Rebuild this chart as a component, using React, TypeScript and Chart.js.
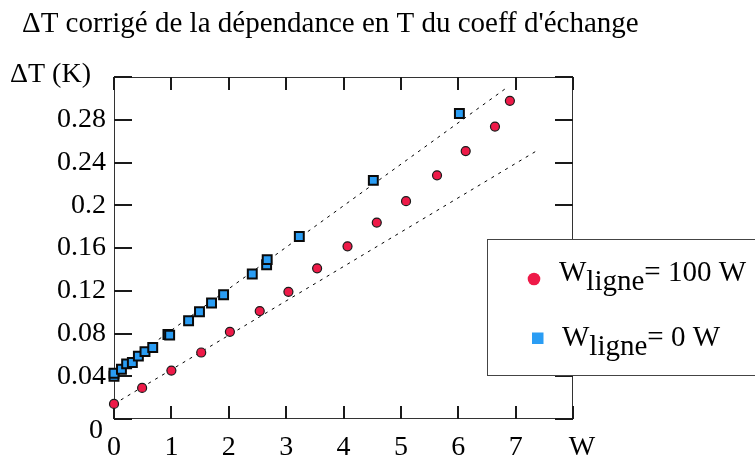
import React, { useEffect, useRef } from 'react';
import { Chart, registerables } from 'chart.js';

Chart.register(...registerables);

const SERIF = '"Liberation Serif", "Times New Roman", Times, serif';

const titleText = "ΔT corrigé de la dépendance en T du coeff d'échange";
const yUnitLabel = 'ΔT (K)';
const xUnitLabel = 'W';

// W_ligne = 100 W (red circles)
const redX = [0, 0.49, 1.0, 1.52, 2.02, 2.54, 3.04, 3.54, 4.07, 4.58, 5.09, 5.63, 6.13, 6.64, 6.9];
const redY = [0.0141, 0.0291, 0.0453, 0.0622, 0.0816, 0.101, 0.119, 0.141, 0.1616, 0.1838, 0.2038, 0.228, 0.2507, 0.2736, 0.2977];

// W_ligne = 0 W (blue squares)
const blueX = [0, 0, 0.13, 0.22, 0.32, 0.425, 0.54, 0.675, 0.94, 0.97, 1.3, 1.49, 1.7, 1.91, 2.41, 2.66, 2.67, 3.23, 4.52, 6.02];
const blueY = [0.04, 0.0428, 0.0466, 0.0516, 0.0528, 0.0588, 0.063, 0.0669, 0.079, 0.0785, 0.0919, 0.1003, 0.1085, 0.1163, 0.1357, 0.1444, 0.1491, 0.1707, 0.2233, 0.2858];

// dotted fit lines
const fitUpperX = [0.78, 6.81];
const fitUpperY = [0.0745, 0.3086];
const fitLowerX = [0, 7.36];
const fitLowerY = [0.014, 0.2507];

const xMin = 0, xMax = 8, xStep = 1;
const yMin = 0, yMax = 0.32, yStep = 0.04;

const legendMain = 'W';
const legendSub = 'ligne';
const legendRest = ['= 100 W', '= 0 W'];

const RED = '#ee1a48';
const BLUE = '#2a9df4';

const pts = (xs: number[], ys: number[]) => xs.map((x, i) => ({ x, y: ys[i] }));

const framePlugin = {
  id: 'frameTicks',
  beforeDatasetsDraw(chart: any) {
    const { ctx, chartArea: a, scales } = chart;
    const xs = scales.x, ys = scales.y;
    ctx.save();
    ctx.strokeStyle = '#333';
    ctx.lineWidth = 1;
    ctx.strokeRect(a.left + 0.5, a.top + 0.5, a.right - a.left - 1, a.bottom - a.top - 1);
    ctx.strokeStyle = '#1a1a1a';
    ctx.lineWidth = 2;
    ctx.beginPath();
    xs.ticks.forEach((t: any) => {
      const px = Math.round(xs.getPixelForValue(t.value));
      ctx.moveTo(px, a.bottom); ctx.lineTo(px, a.bottom - 13);
      ctx.moveTo(px, a.top); ctx.lineTo(px, a.top + 13);
    });
    ys.ticks.forEach((t: any) => {
      const py = Math.round(ys.getPixelForValue(t.value));
      ctx.moveTo(a.left, py); ctx.lineTo(a.left + 18, py);
      ctx.moveTo(a.right, py); ctx.lineTo(a.right - 18, py);
    });
    ctx.stroke();
    ctx.restore();
  },
  afterDraw(chart: any) {
    const { ctx, scales } = chart;
    ctx.save();
    ctx.fillStyle = '#000';
    ctx.textBaseline = 'alphabetic';
    ctx.textAlign = 'left';
    ctx.font = `29px ${SERIF}`;
    ctx.fillText(titleText, 22, 32);
    ctx.font = `28px ${SERIF}`;
    ctx.fillText(yUnitLabel, 10, 82);
    ctx.textAlign = 'center';
    ctx.fillText('0', 96, 438);
    ctx.fillText(xUnitLabel, scales.x.getPixelForValue(xMax) + 9, 455);

    // legend box
    const lx = 487, ly = 239, lh = 136;
    ctx.fillStyle = '#fff';
    ctx.fillRect(lx, ly, 300, lh);
    ctx.strokeStyle = '#444';
    ctx.lineWidth = 1;
    ctx.strokeRect(lx + 0.5, ly + 0.5, 300, lh);

    // markers
    ctx.fillStyle = RED;
    ctx.beginPath();
    ctx.arc(534, 279, 6.3, 0, Math.PI * 2);
    ctx.fill();
    ctx.fillStyle = BLUE;
    ctx.fillRect(532, 332.5, 11.5, 11.5);

    // texts
    const rows = [{ x: 559, y: 280.5 }, { x: 562, y: 345.5 }];
    ctx.fillStyle = '#000';
    ctx.textAlign = 'left';
    rows.forEach((r, i) => {
      ctx.font = `29px ${SERIF}`;
      ctx.fillText(legendMain, r.x, r.y);
      let x = r.x + ctx.measureText(legendMain).width;
      ctx.fillText(legendSub, x, r.y + 9.5);
      x += ctx.measureText(legendSub).width;
      ctx.fillText(legendRest[i], x, r.y);
    });
    ctx.restore();
  },
};

export default function App() {
  const ref = useRef<HTMLCanvasElement | null>(null);
  useEffect(() => {
    if (!ref.current) return;
    const chart = new Chart(ref.current, {
      type: 'scatter',
      data: {
        datasets: [
          {
            label: 'W_ligne= 100 W',
            data: pts(redX, redY),
            backgroundColor: RED,
            borderColor: '#1a1a1a',
            borderWidth: 1.2,
            pointStyle: 'circle',
            pointRadius: 4.5,
            order: 1,
            clip: false,
          },
          {
            label: 'W_ligne= 0 W',
            data: pts(blueX, blueY),
            backgroundColor: BLUE,
            borderColor: '#0a0a0a',
            borderWidth: 2,
            pointStyle: 'rect',
            pointRadius: 6.3,
            order: 0,
            clip: false,
          },
          {
            label: 'fit0',
            data: pts(fitUpperX, fitUpperY),
            showLine: true,
            borderColor: '#000',
            borderWidth: 1,
            borderDash: [3, 5],
            pointRadius: 0,
            order: 5,
          },
          {
            label: 'fit100',
            data: pts(fitLowerX, fitLowerY),
            showLine: true,
            borderColor: '#000',
            borderWidth: 1,
            borderDash: [3, 5],
            pointRadius: 0,
            order: 5,
          },
        ],
      },
      options: {
        animation: false,
        responsive: false,
        devicePixelRatio: 1,
        layout: { padding: { top: 77, right: 182, bottom: 0, left: 0 } },
        plugins: { legend: { display: false }, tooltip: { enabled: false }, title: { display: false } },
        scales: {
          x: {
            type: 'linear',
            min: xMin,
            max: xMax,
            grid: { display: false, drawTicks: false },
            border: { display: false },
            ticks: {
              stepSize: xStep,
              autoSkip: false,
              maxRotation: 0,
              padding: 12,
              color: '#000',
              font: { family: SERIF, size: 28 },
              callback: (v: any) => (v === xMax ? '' : String(v)),
            },
            afterFit: (s: any) => { s.height = 38; },
          },
          y: {
            type: 'linear',
            min: yMin,
            max: yMax,
            grid: { display: false, drawTicks: false },
            border: { display: false },
            ticks: {
              stepSize: yStep,
              autoSkip: false,
              padding: 8,
              color: '#000',
              font: { family: SERIF, size: 28 },
              callback: (v: any) => {
                const n = Number(Number(v).toFixed(2));
                if (n === 0 || Math.abs(n - yMax) < 1e-9) return '';
                return String(n);
              },
            },
            afterFit: (s: any) => { s.width = 114; },
          },
        },
      },
      plugins: [framePlugin],
    });
    return () => chart.destroy();
  }, []);
  return (
    <div style={{ position: 'fixed', left: 0, top: 0, width: 755, height: 457, background: '#fff' }}>
      <canvas ref={ref} width={755} height={457} style={{ display: 'block', width: 755, height: 457 }} />
    </div>
  );
}
